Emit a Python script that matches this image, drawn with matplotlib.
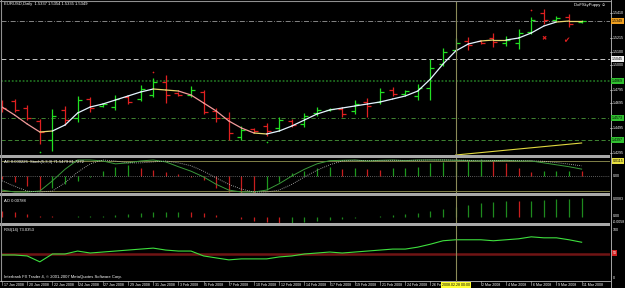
import numpy as np
import matplotlib
matplotlib.use("Agg")
import matplotlib.pyplot as plt
from matplotlib.patches import Rectangle
from matplotlib.lines import Line2D
from matplotlib.transforms import blended_transform_factory

# --- data (EURUSD daily, 17 Jan - 11 Mar 2008) ---
# "26 Fe" is cut by the yellow cursor label in the screenshot, "28 Feb" is hidden under it
date_labels = ["17 Jan 2008", "20 Jan 2008", "22 Jan 2008", "24 Jan 2008", "27 Jan 2008",
               "29 Jan 2008", "31 Jan 2008", "3 Feb 2008", "5 Feb 2008", "7 Feb 2008",
               "10 Feb 2008", "12 Feb 2008", "14 Feb 2008", "17 Feb 2008", "19 Feb 2008",
               "21 Feb 2008", "24 Feb 2008", "26 Fe", "", "2 Mar 2008",
               "4 Mar 2008", "6 Mar 2008", "9 Mar 2008", "11 Mar 2008"]

opens = [1.4701, 1.4709, 1.4653, 1.4549, 1.4397, 1.4637, 1.4573, 1.4725, 1.4669, 1.4661,
         1.4741, 1.4725, 1.4757, 1.4861, 1.4773, 1.4757, 1.4781, 1.4629, 1.4573, 1.4421,
         1.4485, 1.4509, 1.4493, 1.4549, 1.4525, 1.4613, 1.4637, 1.4645, 1.4629, 1.4701,
         1.4701, 1.4797, 1.4765, 1.4749, 1.4813, 1.5005, 1.5117, 1.5189, 1.5189, 1.5213,
         1.5173, 1.5173, 1.5261, 1.5413, 1.5357, 1.5381, 1.5337]
highs = [1.4717, 1.4725, 1.4677, 1.4565, 1.4645, 1.4669, 1.4749, 1.4741, 1.4693, 1.4757,
         1.4757, 1.4837, 1.4893, 1.4917, 1.4781, 1.4829, 1.4797, 1.4653, 1.4621, 1.4509,
         1.4493, 1.4533, 1.4581, 1.4565, 1.4613, 1.4661, 1.4653, 1.4661, 1.4717, 1.4733,
         1.4813, 1.4821, 1.4797, 1.4845, 1.5045, 1.5133, 1.5213, 1.5221, 1.5197, 1.5253,
         1.5229, 1.5285, 1.5381, 1.5445, 1.5389, 1.5405, 1.5354]
lows = [1.4621, 1.4621, 1.4557, 1.4365, 1.4309, 1.4517, 1.4541, 1.4621, 1.4661, 1.4637,
        1.4685, 1.4709, 1.4741, 1.4693, 1.4749, 1.4741, 1.4605, 1.4541, 1.4397, 1.4397,
        1.4453, 1.4429, 1.4469, 1.4501, 1.4501, 1.4589, 1.4629, 1.4581, 1.4605, 1.4581,
        1.4685, 1.4749, 1.4757, 1.4717, 1.4717, 1.4989, 1.5093, 1.5117, 1.5165, 1.5141,
        1.5149, 1.5125, 1.5245, 1.5325, 1.5349, 1.5301, 1.5335]
closes = [1.4653, 1.4637, 1.4573, 1.4461, 1.4589, 1.4557, 1.4717, 1.4653, 1.4685, 1.4725,
          1.4701, 1.4805, 1.4861, 1.4757, 1.4757, 1.4797, 1.4621, 1.4573, 1.4453, 1.4477,
          1.4469, 1.4469, 1.4557, 1.4517, 1.4589, 1.4637, 1.4645, 1.4605, 1.4685, 1.4669,
          1.4781, 1.4765, 1.4789, 1.4813, 1.4973, 1.5101, 1.5173, 1.5157, 1.5173, 1.5181,
          1.5197, 1.5253, 1.5357, 1.5357, 1.5373, 1.5325, 1.5349]
ma = [1.4661, 1.4597, 1.4525, 1.4461, 1.4469, 1.4517, 1.4613, 1.4661, 1.4685, 1.4717,
      1.4749, 1.4781, 1.4805, 1.4797, 1.4789, 1.4757, 1.4693, 1.4629, 1.4549, 1.4493,
      1.4453, 1.4445, 1.4469, 1.4509, 1.4557, 1.4605, 1.4637, 1.4653, 1.4669, 1.4685,
      1.4701, 1.4725, 1.4749, 1.4789, 1.4885, 1.5005, 1.5109, 1.5165, 1.5189, 1.5197,
      1.5197, 1.5213, 1.5253, 1.5309, 1.5341, 1.5349, 1.5349]

fractal_up_bars = [12, 42]
fractal_up_prices = [1.4941, 1.5437]
fractal_dn_bars = [3, 21]
fractal_dn_prices = [1.4301, 1.4381]

trend_bars = [36, 46]
trend_prices = [1.4277, 1.4373]

levels = [1.5349, 1.5045, 1.4869, 1.4573, 1.4397]
price_ticks = [1.5410, 1.5215, 1.5100, 1.5000, 1.4795, 1.4695, 1.4495, 1.4295]

ac = [-0.0009, -0.0018, -0.0030, -0.0042, -0.0036, -0.0024, -0.0015, -0.0003, 0.0015, 0.0027,
      0.0033, 0.0024, 0.0018, 0.0012, 0.0006, -0.0003, -0.0012, -0.0036, -0.0048, -0.0050,
      -0.0051, -0.0042, -0.0018, 0.0009, 0.0015, 0.0024, 0.0027, 0.0021, 0.0024, 0.0021,
      0.0018, 0.0024, 0.0025, 0.0027, 0.0039, 0.0042, 0.0045, 0.0048, 0.0051, 0.0048,
      0.0039, 0.0024, 0.0012, 0.0014, 0.0015, 0.0016, 0.0015]
stoch_k = [6, 0, 0, 3, 35, 71, 100, 100, 97, 88, 91, 97, 100, 94, 79, 65, 47, 24, 6, 0,
           0, 6, 26, 50, 71, 88, 98, 99, 100, 97, 99, 100, 98, 100, 100, 100, 99, 98, 97, 98,
           99, 97, 97, 91, 85, 79, 71.5]
stoch_d = [35, 18, 3, 0, 3, 29, 62, 88, 100, 97, 91, 91, 94, 97, 91, 82, 65, 44, 24, 9,
           0, 0, 6, 24, 47, 68, 85, 97, 99, 98, 98, 99, 99, 99, 100, 100, 100, 99, 98, 98,
           98, 98, 98, 96, 92, 87, 81.7]
ao = [0.0025, 0.0021, 0.0012, 0.0006, 0.0004, 0.0002, 0.0003, 0.0004, 0.0005, 0.0008,
      0.0012, 0.0017, 0.0019, 0.0021, 0.0022, 0.0019, 0.0015, 0.0008, 0.0002, -0.0008,
      -0.0017, -0.0021, -0.0025, -0.0023, -0.0021, -0.0017, -0.0012, -0.0008, -0.0004, 0.0001,
      0.0004, 0.0008, 0.0012, 0.0017, 0.0025, 0.0033, 0.0040, 0.0050, 0.0058, 0.0062,
      0.0067, 0.0066, 0.0068, 0.0071, 0.0074, 0.0076, 0.0079]
rsi = [47, 47, 45, 33, 49, 49, 55, 51, 53, 55, 57, 59, 61, 57, 55, 55, 45, 41, 37, 39,
       39, 39, 43, 45, 49, 51, 53, 51, 53, 55, 57, 59, 59, 63, 69, 76, 78, 78, 78, 76,
       78, 80, 84, 82, 82, 78, 73]

cursor_bar = 36
signal_bars = [43, 44.8]
signal_prices = [1.5205, 1.5189]

# --- layout in pixels ---
W, H = 625, 288
FONT = "Liberation Sans"
FS = 3.0
FS_SMALL = 2.6
x = np.arange(len(closes))
XL = (-0.08, 48.25)


def box(x0, y0, x1, y1):
    return [x0 / W, 1 - y1 / H, (x1 - x0) / W, (y1 - y0) / H]


def fy(y):
    return 1 - y / H


fig = plt.figure(figsize=(W / 100, H / 100), dpi=100, facecolor="black")

ax = fig.add_axes(box(1, 1, 610, 155))
ax_ac = fig.add_axes(box(1, 158, 610, 193))
ax_st = fig.add_axes(box(1, 158, 610, 193))
ax_ao = fig.add_axes(box(1, 196, 610, 223))
ax_rsi = fig.add_axes(box(1, 226, 610, 281))
for a in (ax, ax_ac, ax_st, ax_ao, ax_rsi):
    a.set_xlim(*XL)
    a.set_axis_off()
    a.patch.set_alpha(0)

ax.set_ylim(1.4277, 1.5509)
ax_ac.set_ylim(-0.0051, 0.0054)
ax_st.set_ylim(-3.1, 106.25)
ax_ao.set_ylim(-0.0025, 0.00874)
ax_rsi.set_ylim(-6.1, 106.1)

# --- main chart ---
ax.axhline(levels[0], color="#9a9a9a", lw=0.6, ls=(0, (6, 2, 1, 2)))
ax.axhline(levels[1], color="#c8c8c8", lw=0.7, ls=(0, (5, 3)))
ax.axhline(levels[2], color="#1f6a1f", lw=1.3, ls=(0, (1, 1)))
ax.axhline(levels[3], color="#4a9a3a", lw=0.6, ls=(0, (5, 3, 1, 3)))
ax.axhline(levels[4], color="#4a9a3a", lw=0.6, ls=(0, (5, 3)))

o, h, l, c = map(np.array, (opens, highs, lows, closes))
cols = np.where(c >= o, "#22e022", "#e02020")
ax.vlines(x, l, h, colors=cols, lw=0.9)
ax.hlines(o, x - 0.32, x, colors=cols, lw=0.9)
ax.hlines(c, x, x + 0.32, colors=cols, lw=0.9)

m = np.array(ma)
for i in range(len(m) - 1):
    d = m[i + 1] - m[i]
    col = "#e4f4ff" if d > 0.0012 else ("#f29a9a" if d < -0.0012 else "#e8d870")
    ax.plot(x[i:i + 2], m[i:i + 2], color=col, lw=0.9, solid_capstyle="round")

ax.scatter(fractal_up_bars, fractal_up_prices, s=1.5, color="#e02020", lw=0)
ax.scatter(fractal_dn_bars, fractal_dn_prices, s=1.5, color="#20d020", lw=0)
ax.plot(trend_bars, trend_prices, color="#e0d840", lw=0.8)

ax.text(signal_bars[0], signal_prices[0], "\u2716", color="#e02020", fontsize=4.5,
        ha="center", va="center", family="DejaVu Sans")
ax.text(signal_bars[1], signal_prices[1], "\u2714", color="#e02020", fontsize=5.5,
        ha="center", va="center", family="DejaVu Sans")

# --- AC + stochastic panel ---
acv = np.array(ac)
ac_cols = ["#c81e1e" if i > 0 and acv[i] < acv[i - 1] else "#1e9a1e" for i in range(len(acv))]
ac_cols[0] = "#c81e1e"
ax_ac.vlines(x, 0, acv, colors=ac_cols, lw=0.9)
ax_ac.axhline(0, color="#b0b0b0", lw=0.5, ls=(0, (1, 2)))
ax_st.axhline(97, color="#808048", lw=0.7)
ax_st.axhline(3, color="#808048", lw=0.7)
ax_st.plot(x, stoch_k, color="#3a9a3a", lw=0.7)
ax_st.plot(x, stoch_d, color="#c8c8c8", lw=0.6, ls=(0, (1, 1.5)))

# --- AO panel ---
aov = np.array(ao)
ao_cols = ["#c81e1e" if i > 0 and aov[i] < aov[i - 1] else "#1e8a1e" for i in range(len(aov))]
ao_cols[0] = "#c81e1e"
ax_ao.vlines(x, 0, aov, colors=ao_cols, lw=0.9)

# --- RSI panel ---
ax_rsi.axhline(50, color="#701414", lw=1.8)
ax_rsi.plot(x, rsi, color="#3ee03e", lw=0.8)

# --- cursor line ---
for a in (ax, ax_ac, ax_ao, ax_rsi):
    a.axvline(cursor_bar, color="#8a8a58", lw=0.8)

# --- separators, frame and right axis ---
for y0, y1 in [(155, 158), (193, 196), (223, 226)]:
    fig.add_artist(Rectangle((0, fy(y1)), 610 / W, (y1 - y0) / H, transform=fig.transFigure,
                             facecolor="#a8a8a8", edgecolor="none", zorder=5))
fig.add_artist(Line2D([0, 610 / W], [fy(0.5)] * 2, color="#909090", lw=0.8, zorder=5))
fig.add_artist(Line2D([0.6 / W] * 2, [fy(0), fy(281)], color="#909090", lw=0.8, zorder=5))
fig.add_artist(Line2D([610.5 / W] * 2, [fy(0), fy(288)], color="#c0c0c0", lw=0.6, zorder=5))
fig.add_artist(Line2D([0, 610 / W], [fy(281)] * 2, color="#c0c0c0", lw=0.6, zorder=5))

tr_main = blended_transform_factory(fig.transFigure, ax.transData)
for p in price_ticks:
    fig.text(613 / W, 0, "%.4f" % p, transform=tr_main, color="white", fontsize=FS_SMALL,
             va="center", family=FONT).set_y(p)
    fig.add_artist(Line2D([610 / W, 612 / W], [p, p], transform=tr_main, color="white", lw=0.4))

label_boxes = [(levels[0], "#f0a020", "black"), (levels[1], "#f0f0f0", "black"),
               (levels[2], "#30c030", "black"), (levels[3], "#30c030", "black"),
               (levels[4], "#30c030", "black")]
for p, fc, tc in label_boxes:
    fig.text(612 / W, 0, "%.4f" % p, transform=tr_main, color=tc, fontsize=FS_SMALL,
             va="center", family=FONT, zorder=6,
             bbox=dict(boxstyle="square,pad=0.25", fc=fc, ec="none")).set_y(p)


def side(y, s, fc=None, color="white"):
    kw = dict(color=color, fontsize=FS_SMALL, va="center", family=FONT, zorder=6)
    if fc:
        kw["bbox"] = dict(boxstyle="square,pad=0.2", fc=fc, ec="none")
    fig.text(612.5 / W, fy(y), s, **kw)


side(161, "0.0115", fc="#e8e040", color="black")
side(176, "0.00")
side(199, "0.0083")
side(216, "0.00")
side(222, "-0.0058")
side(230, "100")
side(253, "50", fc="#d02020", color="white")
side(278, "0")

# --- texts ---
fig.text(4 / W, fy(4.5), "EURUSD,Daily  1.5337 1.5354 1.5335 1.5349", color="white",
         fontsize=FS, va="center", family=FONT)
fig.text(606 / W, fy(5), "DoFSkyPuppy \u263a", color="white", fontsize=FS, va="center",
         ha="right", family=["Liberation Sans", "DejaVu Sans"])
fig.text(4 / W, fy(162), "AC 0.000226  Stoch(5,3,3) 71.5479 81.7272", color="white",
         fontsize=FS, va="center", family=FONT, zorder=6)
fig.text(4 / W, fy(200.5), "AO 0.00788", color="white", fontsize=FS, va="center", family=FONT)
fig.text(4 / W, fy(230.5), "RSI(14) 73.0353", color="white", fontsize=FS, va="center", family=FONT)
fig.text(4 / W, fy(277), "Interbank FX Trader 4, \u00a9 2001-2007 MetaQuotes Software Corp.",
         color="white", fontsize=FS, va="center", family=FONT)

# --- date axis ---
tr_date = blended_transform_factory(ax_rsi.transData, fig.transFigure)
for k, lab in enumerate(date_labels):
    b = 2 * k
    fig.add_artist(Line2D([b, b], [fy(281), fy(285)], transform=tr_date, color="#c0c0c0", lw=0.4))
    if lab:
        fig.text(b + 0.12, fy(285), lab, transform=tr_date, color="white", fontsize=FS_SMALL,
                 va="center", family=FONT)
fig.add_artist(Line2D([cursor_bar, cursor_bar], [fy(281), fy(288)], transform=tr_date,
                      color="#8a8a58", lw=0.8, zorder=6))
fig.text(cursor_bar, fy(285), "2008.02.28 00:00", transform=tr_date, color="black",
         fontsize=FS_SMALL, va="center", ha="center", family=FONT, zorder=7,
         bbox=dict(boxstyle="square,pad=0.25", fc="#ffff30", ec="none"))

fig.savefig("out.png", dpi=100, facecolor="black")
